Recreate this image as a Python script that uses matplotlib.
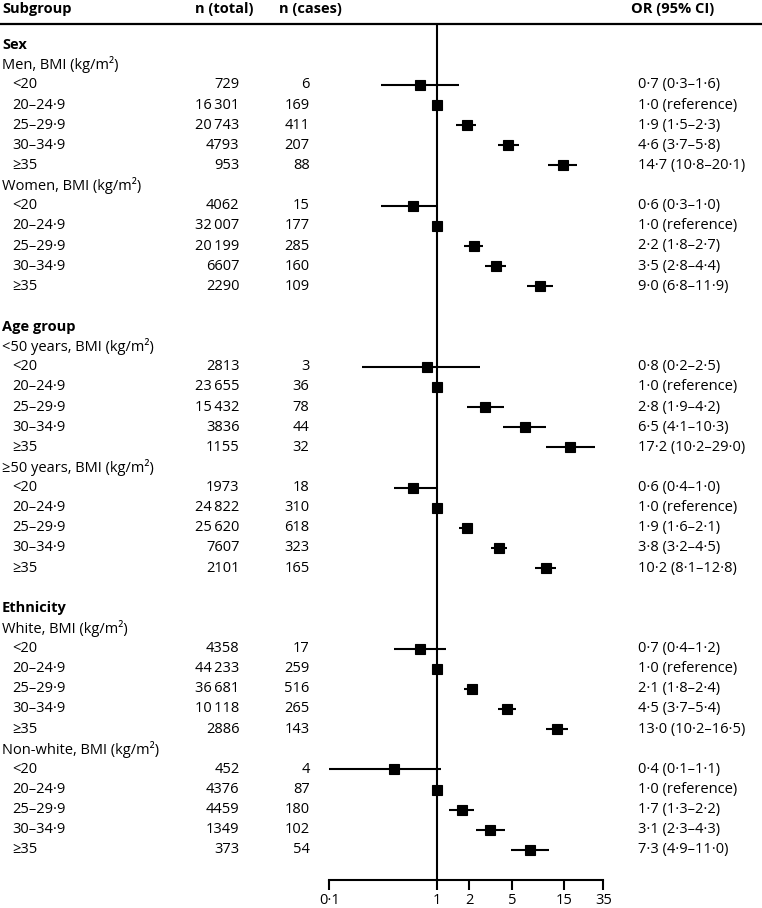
import matplotlib
matplotlib.use("Agg")
import matplotlib.pyplot as plt
import matplotlib.transforms as mtransforms
from matplotlib.lines import Line2D
import numpy as np

plt.rcParams["font.family"] = ["Open Sans", "DejaVu Sans"]
FS = 10.5

# ---------------- data ----------------
groups = ["Sex", "Age group", "Ethnicity"]
subgroups = ["Men", "Women", "<50 years", "≥50 years", "White", "Non-white"]
bmi_cats = ["<20", "20–24·9", "25–29·9", "30–34·9", "≥35"]

n_total = [729, 16301, 20743, 4793, 953,
           4062, 32007, 20199, 6607, 2290,
           2813, 23655, 15432, 3836, 1155,
           1973, 24822, 25620, 7607, 2101,
           4358, 44233, 36681, 10118, 2886,
           452, 4376, 4459, 1349, 373]
n_cases = [6, 169, 411, 207, 88,
           15, 177, 285, 160, 109,
           3, 36, 78, 44, 32,
           18, 310, 618, 323, 165,
           17, 259, 516, 265, 143,
           4, 87, 180, 102, 54]
or_est = [0.7, 1.0, 1.9, 4.6, 14.7,
          0.6, 1.0, 2.2, 3.5, 9.0,
          0.8, 1.0, 2.8, 6.5, 17.2,
          0.6, 1.0, 1.9, 3.8, 10.2,
          0.7, 1.0, 2.1, 4.5, 13.0,
          0.4, 1.0, 1.7, 3.1, 7.3]
ci_lo = [0.3, np.nan, 1.5, 3.7, 10.8,
         0.3, np.nan, 1.8, 2.8, 6.8,
         0.2, np.nan, 1.9, 4.1, 10.2,
         0.4, np.nan, 1.6, 3.2, 8.1,
         0.4, np.nan, 1.8, 3.7, 10.2,
         0.1, np.nan, 1.3, 2.3, 4.9]
ci_hi = [1.6, np.nan, 2.3, 5.8, 20.1,
         1.0, np.nan, 2.7, 4.4, 11.9,
         2.5, np.nan, 4.2, 10.3, 29.0,
         1.0, np.nan, 2.1, 4.5, 12.8,
         1.2, np.nan, 2.4, 5.4, 16.5,
         1.1, np.nan, 2.2, 4.3, 11.0]

xticks = [0.1, 1, 2, 5, 15, 35]


def dot(v):
    return f"{v:.1f}".replace(".", "·")


def fmt_n(n):
    if n >= 10000:
        return f"{n:,}".replace(",", "\u2009")
    return str(n)


# ---------------- figure ----------------
W, H = 762, 908
fig = plt.figure(figsize=(W / 100, H / 100), dpi=100)
fig.patch.set_facecolor("white")

# pixel geometry of the forest panel
x_left, x_right = 329.3, 603.3
y_top, y_bot = 24, 880
row0, row_h = 44.7, 20.13

ax = fig.add_axes([x_left / W, 1 - y_bot / H, (x_right - x_left) / W, (y_bot - y_top) / H])
ax.set_xscale("log")
ax.set_xlim(0.1, 35)
ax.set_ylim((y_bot - row0) / row_h, (y_top - row0) / row_h)
for s in ["top", "left", "right"]:
    ax.spines[s].set_visible(False)
ax.spines["bottom"].set_linewidth(1.5)
ax.set_yticks([])
ax.set_xticks(xticks)
ax.set_xticklabels([dot(t) if t < 1 else str(t) for t in xticks], fontsize=FS)
ax.xaxis.set_minor_locator(matplotlib.ticker.NullLocator())
ax.tick_params(axis="x", direction="out", length=7, width=1.5, pad=2)
ax.axvline(1, color="black", lw=1.5, zorder=1)

tr = mtransforms.blended_transform_factory(fig.transFigure, ax.transData)


def put(xpx, row, s, ha="left", bold=False):
    ax.text(xpx / W, row, s, transform=tr, ha=ha, va="center", fontsize=FS,
            fontweight="bold" if bold else "normal", clip_on=False)


# header
hrow = (9 - row0) / row_h
put(2, hrow, "Subgroup", bold=True)
put(195, hrow, "n (total)", bold=True)
put(279, hrow, "n (cases)", bold=True)
put(631, hrow, "OR (95% CI)", bold=True)
fig.add_artist(Line2D([0, 1], [1 - y_top / H] * 2, color="black", lw=1.6))

# body
row = 0
k = 0
for gi, g in enumerate(groups):
    put(2, row, g, bold=True)
    row += 1
    for sg in subgroups[2 * gi:2 * gi + 2]:
        put(2, row, f"{sg}, BMI (kg/m²)")
        row += 1
        for cat in bmi_cats:
            put(12, row, cat)
            put(239.5, row, fmt_n(n_total[k]), ha="right")
            put(309.5, row, fmt_n(n_cases[k]), ha="right")
            if np.isnan(ci_lo[k]):
                put(638, row, f"{dot(or_est[k])} (reference)")
            else:
                put(638, row, f"{dot(or_est[k])} ({dot(ci_lo[k])}–{dot(ci_hi[k])})")
                ax.plot([ci_lo[k], ci_hi[k]], [row, row], color="black", lw=1.5, zorder=2,
                        solid_capstyle="butt")
            ax.plot(or_est[k], row, marker="s", ms=7.6, color="black", mew=0.8, zorder=3)
            row += 1
            k += 1
    row += 1

fig.savefig("out.png", dpi=100, facecolor="white")
